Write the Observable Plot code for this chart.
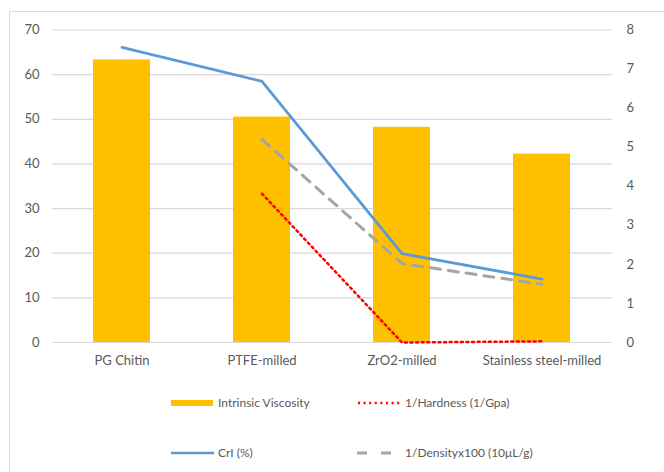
<!DOCTYPE html>
<html><head><meta charset="utf-8">
<script src="https://cdn.jsdelivr.net/npm/d3@7"></script>
<script src="https://cdn.jsdelivr.net/npm/@observablehq/plot@0.6"></script>
<style>
body{margin:0;background:#fff;font-family:Lato,sans-serif;}
#wrap{position:relative;width:664px;height:472px;overflow:hidden;}
#frame{position:absolute;left:9px;top:11px;width:700px;height:500px;border:1px solid #d9d9d9;box-sizing:border-box;}
#chart{position:absolute;left:0;top:0;}
.leg{position:absolute;font-size:12px;color:#595959;line-height:14px;white-space:nowrap;}
.leg svg{position:absolute;left:0;top:0;}
</style></head>
<body><div id="wrap"><div id="frame"></div><div id="chart"></div>
<div class="leg" style="left:171px;top:396px;"><svg width="44" height="14"><rect x="0" y="4" width="42" height="6" fill="#FFC000"/></svg><span style="position:absolute;left:47px;">Intrinsic Viscosity</span></div>
<div class="leg" style="left:357px;top:396px;"><svg width="46" height="14"><line x1="1" y1="7" x2="44" y2="7" stroke="#FF0000" stroke-width="2.5" stroke-dasharray="2 3.6"/></svg><span style="position:absolute;left:48px;">1/Hardness (1/Gpa)</span></div>
<div class="leg" style="left:171px;top:446px;"><svg width="44" height="14"><line x1="0" y1="7" x2="43" y2="7" stroke="#5B9BD5" stroke-width="2.5"/></svg><span style="position:absolute;left:47px;">CrI (%)</span></div>
<div class="leg" style="left:357px;top:446px;"><svg width="46" height="14"><line x1="0" y1="7" x2="44" y2="7" stroke="#A5A5A5" stroke-width="3" stroke-dasharray="10 14"/></svg><span style="position:absolute;left:48px;">1/Densityx100 (10μL/g)</span></div>
</div>
<script>
const categories = ["PG Chitin", "PTFE-milled", "ZrO2-milled", "Stainless steel-milled"];
const viscosity = [63.3, 50.5, 48.2, 42.2];          // left axis
const crI = [66.1, 58.5, 19.9, 14.2];                // left axis
const hardnessCats = ["PTFE-milled", "ZrO2-milled", "Stainless steel-milled"];
const hardness = [3.81, 0.0, 0.03];                  // right axis
const densityCats = ["PTFE-milled", "ZrO2-milled", "Stainless steel-milled"];
const density = [5.2, 2.02, 1.49];                   // right axis
const leftTicks = [0, 10, 20, 30, 40, 50, 60, 70];
const rightTicks = [0, 1, 2, 3, 4, 5, 6, 7, 8];
const leftMax = 70, rightMax = 8;
const toLeft = v => v * leftMax / rightMax;

const bars = categories.map((c, i) => ({c, v: viscosity[i]}));
const crIData = categories.map((c, i) => ({c, v: crI[i]}));
const hardData = hardnessCats.map((c, i) => ({c, v: toLeft(hardness[i])}));
const densData = densityCats.map((c, i) => ({c, v: toLeft(density[i])}));

const chart = Plot.plot({
  width: 664, height: 380,
  marginLeft: 52, marginRight: 52, marginTop: 29.5, marginBottom: 38,
  style: {fontFamily: "Lato, sans-serif", fontSize: "13px", color: "#595959", background: "transparent"},
  x: {type: "band", domain: categories, paddingInner: 0.59, paddingOuter: 0.295, align: 0.5},
  y: {domain: [0, leftMax]},
  marks: [
    Plot.gridY(leftTicks, {stroke: "#d9d9d9", strokeOpacity: 1, strokeWidth: 1.2}),
    Plot.barY(bars, {x: "c", y: "v", fill: "#FFC000"}),
    Plot.line(densData, {x: "c", y: "v", stroke: "#A5A5A5", strokeWidth: 3, strokeDasharray: "10 8"}),
    Plot.line(hardData, {x: "c", y: "v", stroke: "#FF0000", strokeWidth: 2.5, strokeDasharray: "2 3.6"}),
    Plot.line(crIData, {x: "c", y: "v", stroke: "#5B9BD5", strokeWidth: 2.8}),
    Plot.axisY({ticks: leftTicks, tickSize: 0, tickPadding: 13, label: null, fontSize: 13}),
    Plot.text(rightTicks, {y: d => toLeft(d), text: d => String(d), frameAnchor: "right", dx: 14, textAnchor: "start", fill: "#595959", fontSize: 13}),
    Plot.axisX({tickSize: 0, tickPadding: 13, label: null, fontSize: 13})
  ]
});
document.getElementById("chart").appendChild(chart);
</script>
</body></html>
